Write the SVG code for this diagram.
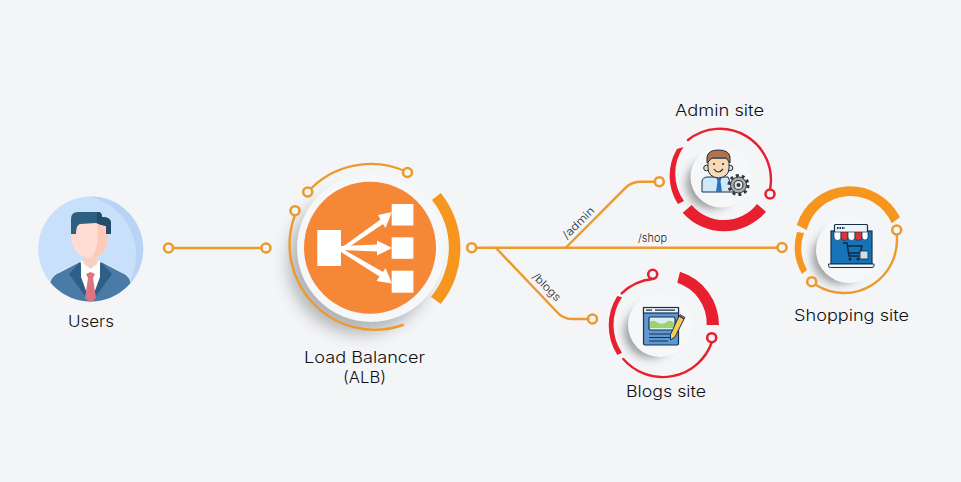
<svg xmlns="http://www.w3.org/2000/svg" width="961" height="482" viewBox="0 0 961 482">
<style>
.wire{fill:none;stroke:#ec9a2e;stroke-width:2.4;stroke-linecap:round}
.dot{fill:#f4f5f7;stroke:#ec9a2e;stroke-width:2.6}
.rw{fill:none;stroke:#e81f2e;stroke-width:2.4;stroke-linecap:round}
.rd{fill:#f4f5f7;stroke:#e81f2e;stroke-width:2.6}
.r{fill:#e81f2e}
.o{fill:#f7961f}
.lb{font-family:"Inter","Open Sans",sans-serif;font-size:16px;font-weight:300;fill:#111;text-anchor:middle}
.rt{font-family:"Inter","Open Sans",sans-serif;font-size:11px;font-weight:300;fill:#222;text-anchor:middle}
.ln{stroke:#17324d;stroke-width:1.2;fill:none}
</style>
<defs>
<filter id="b6" x="-50%" y="-50%" width="200%" height="200%"><feGaussianBlur stdDeviation="8"/></filter>
<filter id="b3" x="-50%" y="-50%" width="200%" height="200%"><feGaussianBlur stdDeviation="4.500"/></filter>
<clipPath id="uc"><circle cx="90.7" cy="249" r="52.5"/></clipPath>
</defs>
<rect width="961" height="482" fill="#f4f5f7"/>

<g id="connectors">
<path class="wire" d="M173 248H261.500"/>
<path class="wire" d="M476.500 247.700H777.500"/>
<path class="wire" d="M566 247.500L626.700 186.700Q632 181.700 641.700 181.700H654.500"/>
<path class="wire" d="M495.700 247.700L556.700 311.700Q563 319 572 319H588"/>
<circle class="dot" cx="168.500" cy="248" r="4.500"/>
<circle class="dot" cx="266" cy="248" r="4.500"/>
<circle class="dot" cx="471.700" cy="247.700" r="4.500"/>
<circle class="dot" cx="782" cy="247.500" r="4.500"/>
<circle class="dot" cx="659.300" cy="181.700" r="4.500"/>
<circle class="dot" cx="592.500" cy="319" r="4.500"/>
<text class="rt" transform="translate(581 225.500) rotate(-45)" textLength="40" lengthAdjust="spacingAndGlyphs">/admin</text>
<text class="rt" x="652.500" y="242" textLength="29" lengthAdjust="spacingAndGlyphs">/shop</text>
<text class="rt" transform="translate(544 289.500) rotate(45)" textLength="35" lengthAdjust="spacingAndGlyphs">/blogs</text>
</g>

<g id="users">
<circle cx="90.700" cy="249" r="52.500" fill="#c9e0fb"/>
<g clip-path="url(#uc)">
<path d="M88 196A52.500 52.500 0 0 1 126 288A60 60 0 0 0 88 196Z" fill="#b8d3f5"/>
<path d="M50 303V282Q52 275 60 272L79 262H102L121 272Q129 275 131 282V303Z" fill="#4a7ba6" stroke="#dcecfb" stroke-width="1"/>
<path d="M80 262L69 274L90 303ZM101 262L112 274L91 303Z" fill="#2f5f86"/>
<path d="M81 260L90.500 268L100 260V277L90.500 303L81 277Z" fill="#fff"/>
<path d="M86 274L90.500 272L95 274L93 278L96 298L90.500 303L85 298L88 278Z" fill="#df7580"/>
<path d="M84 250H97V264L90.500 269L84 264Z" fill="#f7cfc3"/>
<path d="M71 232Q71 257 90.500 258Q109 257 108 232V222H71Z" fill="#ffddd2"/>
<path d="M97 222H108V232Q109 256 90.500 258Q100 250 97 222Z" fill="#fcc9ba"/>
<path d="M71 234V219Q71 212 78 212H98Q102 212 102 217Q110 217 111 222V234H106V226Q100 225 96 223L80 224Q76 225 76 234Z" fill="#2f5f80"/>
<path d="M97 212H98Q102 212 102 217Q110 217 111 222V234H106V226Q100 225 97 223Z" fill="#244c69"/>
</g>
<text class="lb" x="91" y="327" textLength="46" lengthAdjust="spacingAndGlyphs">Users</text>
</g>

<g id="load-balancer">
<circle cx="360" cy="262" r="72" fill="#63676c" opacity=".45" filter="url(#b6)"/>
<circle cx="371" cy="248" r="74" fill="#f6f7f8"/>
<circle cx="370" cy="247.700" r="66" fill="#f68736"/>
<path class="wire" d="M307.700 192A85 85 0 0 1 407 172"/>
<path class="wire" d="M295 215A85 85 0 0 0 402.700 325"/>
<circle class="dot" cx="307.700" cy="192" r="4.500"/>
<circle class="dot" cx="407.500" cy="172.500" r="4.500"/>
<circle class="dot" cx="295" cy="210.700" r="4.500"/>
<path class="o" d="M440.700 193A88 88 0 0 1 440.700 304L431 296.700A76 76 0 0 0 432 200Z"/>
<g fill="#fff">
<rect x="317.300" y="230" width="23.700" height="36"/>
<rect x="391.700" y="204" width="21.700" height="21.500"/>
<rect x="391.700" y="237.300" width="21.700" height="21.500"/>
<rect x="391.700" y="270.700" width="21.700" height="22"/>
<path d="M341 248L380.500 219.500L378 215L392 212L385.500 228L383 224L343 251Z"/>
<path d="M341 246L377 244.500V240.500L392 248L377 255.500V251.500L341 250Z"/>
<path d="M341 248L383 272L385.500 268L392 283.500L376.500 281L379.500 276.500L341 252Z"/>
</g>
<text class="lb" x="364.500" y="363" textLength="121" lengthAdjust="spacingAndGlyphs">Load Balancer</text>
<text class="lb" x="364.500" y="383" textLength="43" lengthAdjust="spacingAndGlyphs">(ALB)</text>
</g>

<g id="admin-site">
<circle cx="711" cy="184" r="25" fill="#55585c" opacity=".55" filter="url(#b3)"/>
<circle cx="721" cy="177" r="30.500" fill="#f6f7f8"/>
<path class="rw" d="M688 140A51 51 0 0 1 770 189.500"/>
<circle class="rd" cx="770" cy="194" r="4.500"/>
<path class="r" d="M677 149A52 52 0 0 0 678 204L684 201A47 47 0 0 1 683.500 147Z"/>
<path class="r" d="M682.700 212.700A55 55 0 0 0 766 211.700L757 204A42 42 0 0 1 691.700 205Z"/>
<path d="M702 192V182Q702 177 708 177H728L734 192Z" fill="#cfe9f6" stroke="#17324d" stroke-width="1"/>
<path d="M716 177H722L720.500 181L722 192H716L717.500 181Z" fill="#2a6fc0"/>
<circle cx="706.500" cy="168" r="2.800" fill="#fbd9b4" stroke="#17324d"/>
<circle cx="730" cy="168" r="2.800" fill="#fbd9b4" stroke="#17324d"/>
<path d="M708 158H729V168Q729 177 718.500 178Q708 177 708 168Z" fill="#fbd9b4" stroke="#17324d" stroke-width="1"/>
<path d="M707 163V157Q708 150 718.500 150Q729 150 730 157V163L726 158H712Z" fill="#b5714a" stroke="#17324d" stroke-width="1"/>
<path d="M714 169Q718 175 723 169" class="ln"/>
<circle cx="714" cy="164" r="1" fill="#17324d"/><circle cx="723" cy="164" r="1" fill="#17324d"/>
<circle cx="738.500" cy="185" r="9.500" fill="none" stroke="#33383d" stroke-width="3" stroke-dasharray="3 2.970"/>
<circle cx="738.500" cy="185" r="8" fill="#a9acae" stroke="#33383d"/>
<circle cx="738.500" cy="185" r="4.500" fill="#e6e6e6" stroke="#33383d" stroke-width="1.200"/>
<circle cx="738.500" cy="185" r="2" fill="#33383d"/>
<text class="lb" x="719.500" y="115.700" textLength="89" lengthAdjust="spacingAndGlyphs">Admin site</text>
</g>

<g id="blogs-site">
<circle cx="650" cy="332" r="26" fill="#55585c" opacity=".55" filter="url(#b3)"/>
<circle cx="660" cy="325" r="32" fill="#f6f7f8"/>
<path class="rw" d="M652.700 279A52 52 0 0 0 621.700 293.300"/>
<circle class="rd" cx="652.700" cy="274.300" r="4.500"/>
<path class="r" d="M617.300 296A55 55 0 0 0 617.300 355L622 352.700A49.500 49.500 0 0 1 622 297.300Z"/>
<path class="rw" d="M623.300 359A52 52 0 0 0 711.700 342.500"/>
<circle class="rd" cx="711.700" cy="337.700" r="4.500"/>
<path class="r" d="M680 271.700A56 56 0 0 1 719 325H706.700A43 43 0 0 0 677.300 282.700Z"/>
<rect x="643.500" y="307.500" width="35" height="37.500" rx="1.500" fill="#5f97d3" stroke="#17324d" stroke-width="1.200"/>
<rect x="643.500" y="307.500" width="35" height="5.500" fill="#eef3f7" stroke="#17324d" stroke-width="1.200"/>
<path d="M646 310.200h6M655 310.200h20" stroke="#17324d" stroke-width="1.300"/>
<rect x="649" y="317" width="26" height="13" rx="1.500" fill="#d9eef2" stroke="#17324d" stroke-width="1.200"/>
<path d="M650 328V322Q654 319 658 323Q664 325 668 321Q671 320 674 323V328Z" fill="#9ed36a"/>
<path d="M649 334H672M649 337.500H670M649 341H668" stroke="#17324d" stroke-width="1"/>
<path d="M679 316L684 319L675 337L670.500 340L670.500 334.500Z" fill="#f5cd55" stroke="#17324d" stroke-width="1"/>
<path d="M679 316L680 314.500L685 317.500L684 319Z" fill="#d9534f" stroke="#17324d" stroke-width=".8"/>
<text class="lb" x="666" y="396.700" textLength="80" lengthAdjust="spacingAndGlyphs">Blogs site</text>
</g>

<g id="shopping-site">
<circle cx="839" cy="257" r="27" fill="#55585c" opacity=".55" filter="url(#b3)"/>
<circle cx="849" cy="250" r="33" fill="#f6f7f8"/>
<path class="o" d="M796.700 225A56 56 0 0 1 900 217.300L891.700 223.300A45 45 0 0 0 806.700 230Z"/>
<path class="o" d="M797 232A53.500 53.500 0 0 0 802 274L807 270A45 45 0 0 1 804 233Z"/>
<path class="wire" d="M896.700 234.500A53 53 0 0 1 816 285"/>
<circle class="dot" cx="896.700" cy="230" r="4.500"/>
<circle class="dot" cx="811.700" cy="281.700" r="4.500"/>
<rect x="831" y="231" width="41" height="33" fill="#1673b8" stroke="#17324d" stroke-width="1.200"/>
<rect x="834.500" y="224.500" width="33" height="11" rx="1" fill="#eef3f7" stroke="#17324d" stroke-width="1.200"/>
<path d="M837 228h8" stroke="#17324d" stroke-width="1.800" stroke-dasharray="1.500 1"/>
<path d="M834 232h7v5a3.500 3.500 0 0 1-7 0Z" fill="#fff" stroke="#17324d" stroke-width=".7"/>
<path d="M841 232h7v5a3.500 3.500 0 0 1-7 0Z" fill="#d8343f" stroke="#17324d" stroke-width=".7"/>
<path d="M848 232h7v5a3.500 3.500 0 0 1-7 0Z" fill="#fff" stroke="#17324d" stroke-width=".7"/>
<path d="M855 232h7v5a3.500 3.500 0 0 1-7 0Z" fill="#d8343f" stroke="#17324d" stroke-width=".7"/>
<path d="M862 232h6v5a3 3 0 0 1-6 0Z" fill="#fff" stroke="#17324d" stroke-width=".7"/>
<path d="M843 243h4l2 13h10M848 246h14l-2 7H849" fill="none" stroke="#0e2a44" stroke-width="1.500"/>
<circle cx="850" cy="259" r="1.500" fill="#0e2a44"/><circle cx="858" cy="259" r="1.500" fill="#0e2a44"/>
<rect x="860" y="251" width="8" height="8" fill="#cfdde8" stroke="#0e2a44" stroke-width=".8"/>
<path d="M828.500 264H874V265.500Q874 267.500 872 267.500H830.500Q828.500 267.500 828.500 265.500Z" fill="#eef3f7" stroke="#17324d" stroke-width="1"/>
<text class="lb" x="851.500" y="320.700" textLength="115" lengthAdjust="spacingAndGlyphs">Shopping site</text>
</g>
</svg>
